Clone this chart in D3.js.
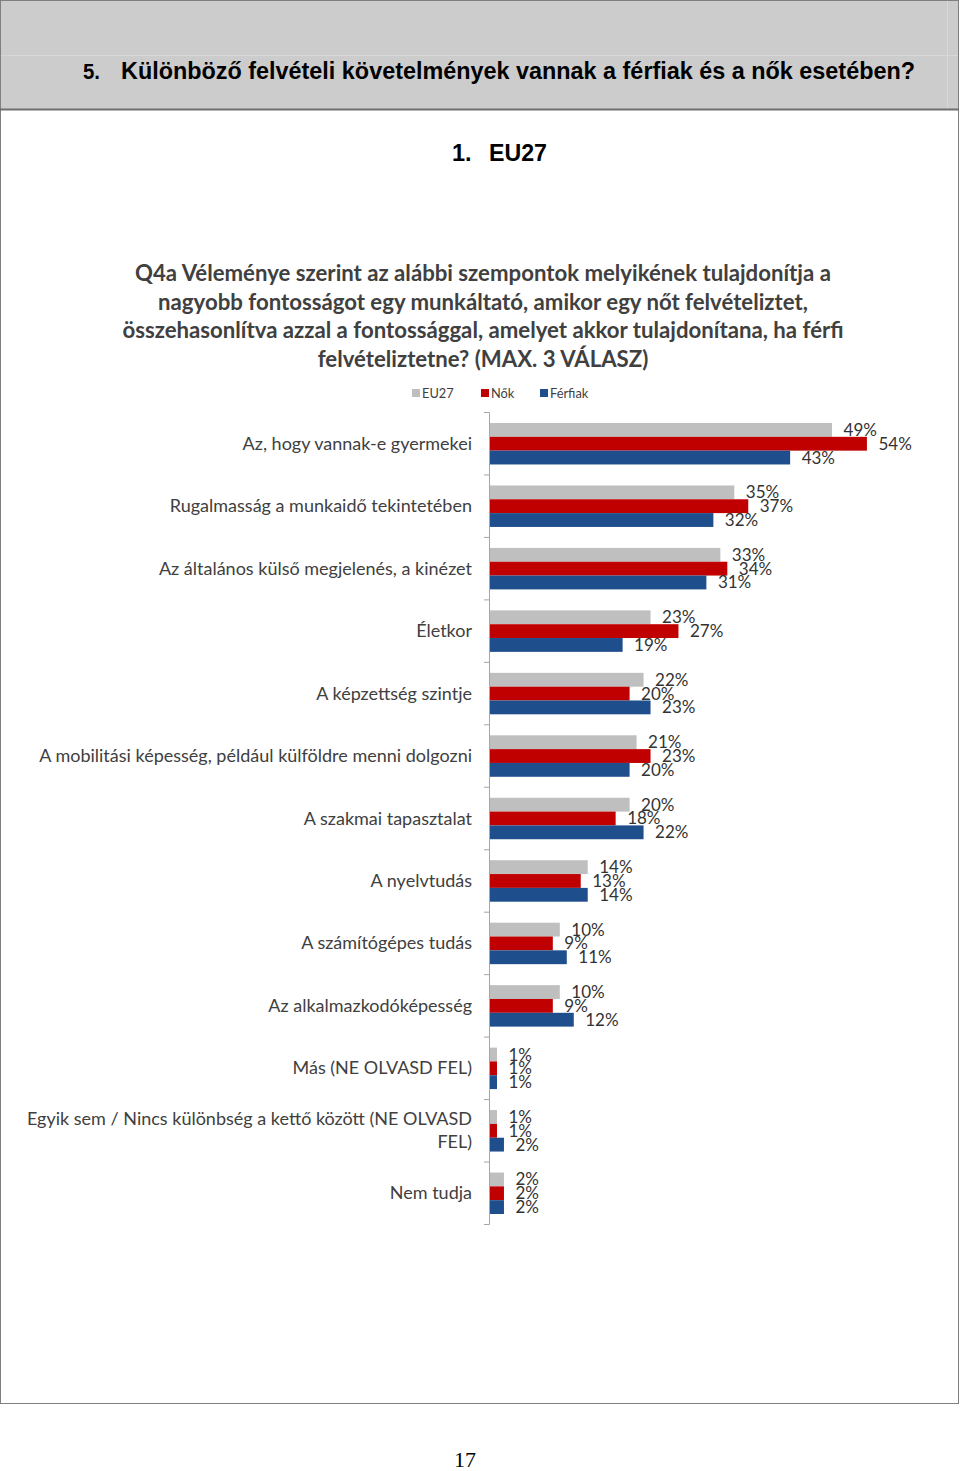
<!DOCTYPE html>
<html><head><meta charset="utf-8">
<script src="https://cdn.jsdelivr.net/npm/d3@7"></script>
<style>body{margin:0;background:#fff}svg{display:block}</style>
</head><body>
<svg id="c" width="960" height="1471"></svg>
<script>
const categories = [
  ["Az, hogy vannak-e gyermekei"],
  ["Rugalmasság a munkaidő tekintetében"],
  ["Az általános külső megjelenés, a kinézet"],
  ["Életkor"],
  ["A képzettség szintje"],
  ["A mobilitási képesség, például külföldre menni dolgozni"],
  ["A szakmai tapasztalat"],
  ["A nyelvtudás"],
  ["A számítógépes tudás"],
  ["Az alkalmazkodóképesség"],
  ["Más (NE OLVASD FEL)"],
  ["Egyik sem / Nincs különbség a kettő között (NE OLVASD", "FEL)"],
  ["Nem tudja"]
];
const seriesNames = ["EU27", "Nők", "Férfiak"];
const eu27 =    [49, 35, 33, 23, 22, 21, 20, 14, 10, 10, 1, 1, 2];
const nok =     [54, 37, 34, 27, 20, 23, 18, 13, 9, 9, 1, 1, 2];
const ferfiak = [43, 32, 31, 19, 23, 20, 22, 14, 11, 12, 1, 2, 2];
const seriesValues = [eu27, nok, ferfiak];
const colors = ["#bfbfbf", "#c00000", "#1f4e8c"];
const titleLines = [
  "Q4a Véleménye szerint az alábbi szempontok melyikének tulajdonítja a",
  "nagyobb fontosságot  egy munkáltató, amikor egy nőt felvételiztet,",
  "összehasonlítva azzal a fontossággal, amelyet akkor tulajdonítana,  ha férfi",
  "felvételiztetne? (MAX. 3 VÁLASZ)"
];

const svg = d3.select("#c");

// page frame
svg.append("rect").attr("x",0.5).attr("y",0.5).attr("width",958).attr("height",1403)
  .attr("fill","#fff").attr("stroke","#7f7f7f").attr("stroke-width",1);
svg.append("rect").attr("x",1).attr("y",1).attr("width",957).attr("height",108)
  .attr("fill","#cccccc");
svg.append("line").attr("x1",1).attr("x2",958).attr("y1",55.5).attr("y2",55.5)
  .attr("stroke","#d8d8d8").attr("stroke-width",1);
svg.append("line").attr("x1",947.5).attr("x2",947.5).attr("y1",1).attr("y2",109)
  .attr("stroke","#d8d8d8").attr("stroke-width",1);
svg.append("line").attr("x1",0).attr("x2",959).attr("y1",109.5).attr("y2",109.5)
  .attr("stroke","#6f6f6f").attr("stroke-width",2);

svg.append("text").attr("x",83).attr("y",79)
  .attr("font-family","Liberation Sans, Arial, sans-serif").attr("font-weight","bold")
  .attr("font-size",22).attr("fill","#000")
  .attr("textLength",17).attr("lengthAdjust","spacingAndGlyphs").text("5.");
svg.append("text").attr("x",121).attr("y",79)
  .attr("font-family","Liberation Sans, Arial, sans-serif").attr("font-weight","bold")
  .attr("font-size",23.5).attr("fill","#000")
  .attr("textLength",794).attr("lengthAdjust","spacingAndGlyphs")
  .text("Különböző felvételi követelmények vannak a férfiak és a nők esetében?");

svg.append("text").attr("x",452).attr("y",161)
  .attr("font-family","Liberation Sans, Arial, sans-serif").attr("font-weight","bold")
  .attr("font-size",23.5).attr("fill","#000").text("1.");
svg.append("text").attr("x",489).attr("y",161)
  .attr("font-family","Liberation Sans, Arial, sans-serif").attr("font-weight","bold")
  .attr("font-size",23.5).attr("fill","#000")
  .attr("textLength",58).attr("lengthAdjust","spacingAndGlyphs").text("EU27");

svg.append("text").attr("x",465).attr("y",1467).attr("text-anchor","middle")
  .attr("font-family","Liberation Serif, Times New Roman, serif")
  .attr("font-size",22).attr("fill","#000").text("17");

// chart title
svg.append("g").selectAll("text").data(titleLines).join("text")
  .attr("x",483).attr("y",(d,i)=>281 + i*28.7).attr("text-anchor","middle")
  .attr("font-family","Lato, sans-serif").attr("font-weight","bold")
  .attr("font-size",22.2).attr("fill","#404040").text(d=>d);

// legend
const leg = svg.append("g").selectAll("g").data(seriesNames).join("g")
  .attr("transform",(d,i)=>`translate(${[412,481,540][i]},389)`);
leg.append("rect").attr("width",8).attr("height",8).attr("fill",(d,i)=>colors[i]);
leg.append("text").attr("x",10).attr("y",9).attr("font-family","Lato, sans-serif")
  .attr("font-size",12.8).attr("fill","#404040").text(d=>d);

// scales
const x = d3.scaleLinear().domain([0, 1]).range([490, 490 + 6.98]);
const y = d3.scaleBand().domain(d3.range(categories.length))
  .range([412.5, 1224.5]).paddingInner(0.336).paddingOuter(0.168);
const ys = d3.scaleBand().domain(d3.range(seriesNames.length)).range([0, y.bandwidth()]);
const step = y.step();

// axis line & ticks
svg.append("line").attr("x1",489.5).attr("x2",489.5).attr("y1",412.5).attr("y2",1224.5)
  .attr("stroke","#a6a6a6");
svg.append("g").selectAll("line").data(d3.range(categories.length+1)).join("line")
  .attr("x1",484).attr("x2",489.5)
  .attr("y1",d=>412.5 + d*step).attr("y2",d=>412.5 + d*step)
  .attr("stroke","#a6a6a6");

// category labels
const cl = svg.append("g").selectAll("text").data(categories).join("text")
  .attr("text-anchor","end").attr("font-family","Lato, sans-serif")
  .attr("font-size",18).attr("fill","#404040");
cl.each(function(lines,i){
  const cy = y(i) + y.bandwidth()/2;
  const lh = 23;
  d3.select(this).selectAll("tspan").data(lines).join("tspan")
    .attr("x",472).attr("y",(d,j)=>cy + 6 + (j - (lines.length-1)/2)*lh).text(d=>d);
});

// bars
const groups = svg.append("g").selectAll("g").data(categories).join("g")
  .attr("transform",(d,i)=>`translate(0,${y(i)})`);
groups.each(function(c,i){
  const g = d3.select(this);
  const vals = seriesValues.map(s=>s[i]);
  g.selectAll("rect").data(vals).join("rect")
    .attr("x",x(0)).attr("y",(d,j)=>ys(j)).attr("width",d=>x(d)-x(0))
    .attr("height",ys.bandwidth()).attr("fill",(d,j)=>colors[j]);
  g.selectAll("text").data(vals).join("text")
    .attr("x",d=>x(d)+11.5).attr("y",(d,j)=>ys(j)+ys.bandwidth()/2+6)
    .attr("font-family","Lato, sans-serif").attr("font-size",17).attr("fill","#333")
    .text(d=>d+"%");
});
</script>
</body></html>
